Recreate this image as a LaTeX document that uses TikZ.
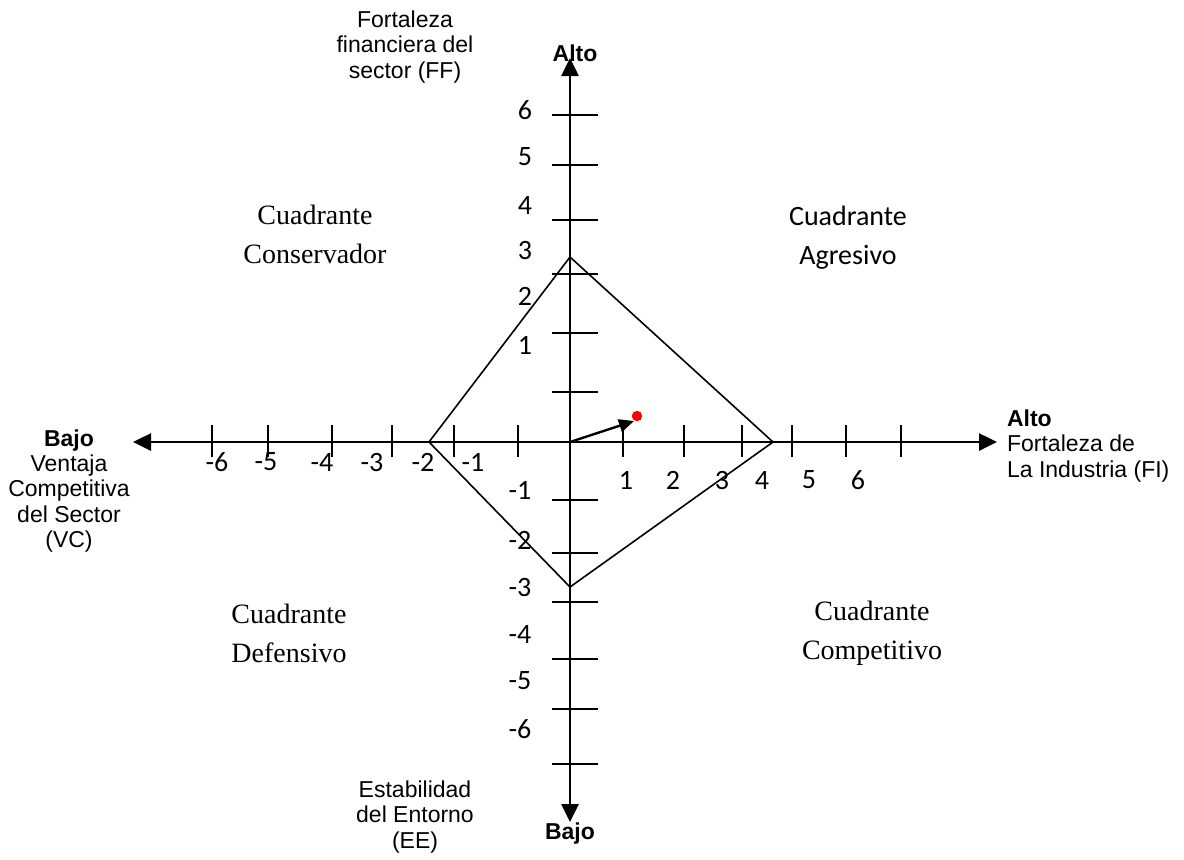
\documentclass[tikz,border=0pt]{standalone}
\usepackage{fontspec}
\setmainfont{Liberation Sans}
\newfontfamily\calibrifont{Carlito}
\newfontfamily\timesfont{Liberation Serif}
\usetikzlibrary{arrows.meta,positioning,calc}
\tikzset{
    axis/.style   = {draw, line width=1.3pt, -{Triangle[length=9pt, width=8.5pt]}},
    tick/.style   = {draw, line width=0.8pt},
    rombo/.style  = {draw, line width=0.8pt},
    vector/.style = {draw, line width=1.2pt, -{Triangle[length=7.5pt, width=6.5pt]}},
    axlabel/.style = {align=center, font=\fontsize{11.5}{12.7}\selectfont},
    num/.style    = {font=\calibrifont\fontsize{14}{16}\selectfont, inner sep=0pt},
    quadt/.style  = {align=center, font=\timesfont\fontsize{14}{19.5}\selectfont},
    quadc/.style  = {align=center, font=\calibrifont\fontsize{14}{19.5}\selectfont}
}

\begin{document}
\begin{tikzpicture}[x=0.5pt, y=-0.5pt]
  \useasboundingbox (0,0) rectangle (1184,859);

  % ejes
  \coordinate (o)    at (570,442);
  \coordinate (xmin) at (133,442);
  \coordinate (xmax) at (997,442);
  \coordinate (ymax) at (570,58);
  \coordinate (ymin) at (570,822);
  \path [axis] (o) -- (xmax);
  \path [axis] (o) -- (xmin);
  \path [axis] (o) -- (ymax);
  \path [axis] (o) -- (ymin);

  \foreach \x in {212,268,332,392,454,518,623,684,742,792,846,901}
    \path [tick] (\x,425) -- (\x,457);
  \foreach \y in {115,165,220,274,333,392,500,553,602,659,709,764}
    \path [tick] (552,\y) -- (598,\y);

  % numeros
  \foreach \n/\x in {-6/217,-5/266,-4/322,-3/372,-2/423,-1/473}
    \node [num] (h\n) at (\x,462) {\n};
  \foreach \n/\x in {1/626,2/673,3/722,4/762,5/809,6/858}
    \node [num] (h\n) at (\x,480) {\n};
  \foreach \n/\y in {6/110,5/157,4/205,3/250,2/296,1/345}
    \node [num] (v\n) at (525,\y) {\n};
  \foreach \n/\y in {-1/490,-2/540,-3/587,-4/634,-5/681,-6/729}
    \node [num] (v\n) at (520,\y) {\n};

  % rombo
  \coordinate (ff) at (570,257);
  \coordinate (fi) at (773,442);
  \coordinate (ee) at (570,587);
  \coordinate (vc) at (429,442);
  \path [rombo] (ff) -- (fi) -- (ee) -- (vc) -- cycle;

  % vector direccional
  \coordinate (punta) at (634,421);
  \path [vector] (o) -- (punta);
  \fill [red] (637,416) circle (2.6pt);

  % rotulos de los ejes
  \node [axlabel] (lblff) at (405,47) {Fortaleza\\financiera del\\sector (FF)};
  \node [axlabel, font=\bfseries\fontsize{11.5}{12.7}\selectfont] (altoy) at (575,53) {Alto};
  \node [axlabel, font=\bfseries\fontsize{11.5}{12.7}\selectfont] (bajoy) at (570,834) {Bajo};
  \node [axlabel, align=left, anchor=west] (lblfi) at (1000,446)
        {\textbf{Alto}\\Fortaleza de\\La Industria (FI)};
  \node [axlabel] (lblvc) at (69,491)
        {\textbf{Bajo}\\Ventaja\\Competitiva\\del Sector\\(VC)};
  \node [axlabel] (lblee) at (415,817) {Estabilidad\\del Entorno\\(EE)};

  % cuadrantes
  \node [quadt] (qcons) at (315,234) {Cuadrante\\Conservador};
  \node [quadc] (qagre) at (848,238) {Cuadrante\\Agresivo};
  \node [quadt] (qdefe) at (289,633) {Cuadrante\\Defensivo};
  \node [quadt] (qcomp) at (872,633) {Cuadrante\\Competitivo};
\end{tikzpicture}
\end{document}
